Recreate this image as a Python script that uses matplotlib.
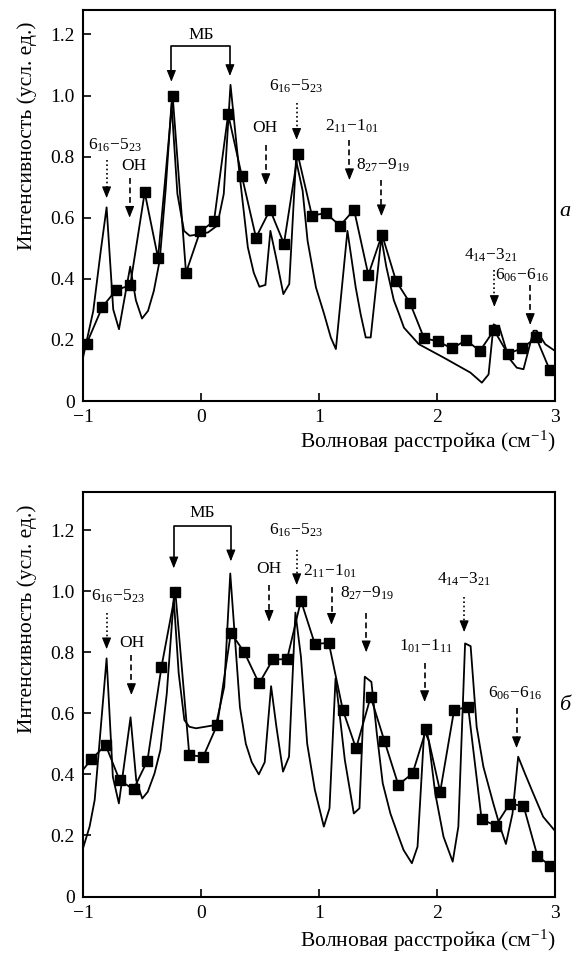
import matplotlib
matplotlib.use("Agg")
import matplotlib.pyplot as plt

plt.rcParams['font.family'] = ['Liberation Serif', 'DejaVu Serif']
plt.rcParams['mathtext.fontset'] = 'custom'
plt.rcParams['mathtext.rm'] = 'Liberation Serif'
plt.rcParams['mathtext.it'] = 'Liberation Serif:italic'
plt.rcParams['mathtext.bf'] = 'Liberation Serif:bold'

# ---------------- data: panel a ----------------
a_exp_x = [-0.97, -0.836, -0.72, -0.60, -0.477, -0.364, -0.24, -0.127, -0.008, 0.11,
           0.23, 0.347, 0.466, 0.585, 0.703, 0.82, 0.94, 1.057, 1.178, 1.297,
           1.418, 1.534, 1.653, 1.771, 1.89, 2.008, 2.127, 2.246, 2.364, 2.483,
           2.60, 2.72, 2.84, 2.957]
a_exp_y = [0.187, 0.308, 0.363, 0.379, 0.683, 0.468, 0.998, 0.42, 0.555, 0.588,
           0.939, 0.735, 0.535, 0.626, 0.515, 0.807, 0.607, 0.615, 0.574, 0.626,
           0.413, 0.545, 0.393, 0.321, 0.206, 0.195, 0.172, 0.199, 0.164, 0.232,
           0.155, 0.172, 0.208, 0.10]

a_th_x = [-1.0, -0.913, -0.85, -0.80, -0.744, -0.695, -0.60, -0.552, -0.50, -0.449,
          -0.40, -0.35, -0.30, -0.25, -0.20, -0.144, -0.096, -0.012, 0.06, 0.137,
          0.193, 0.25, 0.326, 0.397, 0.447, 0.495, 0.546, 0.588, 0.636, 0.698,
          0.748, 0.805, 0.861, 0.903, 0.974, 1.044, 1.10, 1.143, 1.241, 1.311,
          1.353, 1.396, 1.438, 1.528, 1.57, 1.634, 1.678, 1.72, 1.846, 2.057,
          2.283, 2.38, 2.437, 2.48, 2.53, 2.607, 2.676, 2.733, 2.818, 2.845,
          2.917, 3.0]
a_th_y = [0.142, 0.295, 0.49, 0.634, 0.30, 0.235, 0.44, 0.33, 0.27, 0.295,
          0.36, 0.46, 0.69, 0.975, 0.678, 0.557, 0.541, 0.546, 0.552, 0.574,
          0.678, 1.035, 0.744, 0.503, 0.42, 0.374, 0.38, 0.557, 0.47, 0.35,
          0.383, 0.789, 0.689, 0.525, 0.372, 0.284, 0.208, 0.17, 0.557, 0.372,
          0.284, 0.208, 0.208, 0.535, 0.44, 0.33, 0.285, 0.24, 0.186, 0.142,
          0.093, 0.06, 0.087, 0.251, 0.24, 0.142, 0.109, 0.104, 0.23, 0.23,
          0.186, 0.164]

# ---------------- data: panel b ----------------
b_exp_x = [-1.0, -0.93, -0.808, -0.69, -0.572, -0.454, -0.335, -0.217, -0.099, 0.019,
           0.138, 0.253, 0.367, 0.492, 0.61, 0.729, 0.847, 0.965, 1.083, 1.202,
           1.314, 1.438, 1.554, 1.672, 1.793, 1.909, 2.027, 2.145, 2.264, 2.378,
           2.497, 2.615, 2.733, 2.851, 2.961]
b_exp_y = [0.415, 0.449, 0.496, 0.381, 0.351, 0.445, 0.752, 0.996, 0.463, 0.458,
           0.563, 0.864, 0.80, 0.698, 0.777, 0.777, 0.969, 0.827, 0.831, 0.611,
           0.485, 0.654, 0.51, 0.366, 0.403, 0.548, 0.343, 0.611, 0.621, 0.253,
           0.232, 0.303, 0.297, 0.133, 0.10]

b_th_x = [-1.0, -0.944, -0.901, -0.80, -0.747, -0.696, -0.597, -0.549, -0.498, -0.451,
          -0.394, -0.344, -0.29, -0.231, -0.189, -0.141, -0.099, -0.042, 0.127, 0.197,
          0.248, 0.30, 0.33, 0.38, 0.43, 0.49, 0.54, 0.594, 0.639, 0.695,
          0.746, 0.80, 0.847, 0.90, 0.965, 1.041, 1.089, 1.14, 1.219, 1.295,
          1.343, 1.388, 1.444, 1.49, 1.54, 1.605, 1.675, 1.717, 1.787, 1.835,
          1.892, 1.93, 1.985, 2.055, 2.133, 2.181, 2.238, 2.285, 2.336, 2.393,
          2.477, 2.534, 2.584, 2.64, 2.688, 2.745, 2.815, 2.90, 2.993]
b_th_y = [0.158, 0.229, 0.316, 0.78, 0.392, 0.305, 0.587, 0.381, 0.321, 0.343,
          0.403, 0.48, 0.665, 0.976, 0.731, 0.578, 0.556, 0.551, 0.562, 0.687,
          1.058, 0.78, 0.62, 0.50, 0.44, 0.40, 0.44, 0.689, 0.556, 0.409,
          0.458, 0.93, 0.785, 0.50, 0.349, 0.229, 0.289, 0.714, 0.447, 0.272,
          0.289, 0.72, 0.703, 0.534, 0.371, 0.272, 0.196, 0.152, 0.109, 0.163,
          0.545, 0.51, 0.338, 0.196, 0.114, 0.229, 0.829, 0.82, 0.556, 0.425,
          0.305, 0.229, 0.172, 0.272, 0.458, 0.403, 0.338, 0.261, 0.218]

x_ticks = [-1, 0, 1, 2, 3]
y_ticks = [0, 0.2, 0.4, 0.6, 0.8, 1.0, 1.2]
y_label = "Интенсивность (усл. ед.)"
x_label = "Волновая расстройка (см$^{-1}$)"

# annotations: (text, text_x, text_y, arrow_x, arrow_top, arrow_tip, style)
L1 = "6$_{16}$−5$_{23}$"
L2 = "2$_{11}$−1$_{01}$"
L3 = "8$_{27}$−9$_{19}$"
L4 = "4$_{14}$−3$_{21}$"
L5 = "6$_{06}$−6$_{16}$"
L6 = "1$_{01}$−1$_{11}$"
a_notes = [
    (L1, -0.73, 0.838, -0.80, 0.789, 0.664, 'dot'),
    ("OH", -0.572, 0.77, -0.605, 0.73, 0.60, 'dash'),
    ("OH", 0.543, 0.893, 0.549, 0.838, 0.707, 'dash'),
    (L1, 0.805, 1.03, 0.81, 0.975, 0.855, 'dot'),
    (L2, 1.274, 0.898, 1.258, 0.855, 0.723, 'dash'),
    (L3, 1.537, 0.772, 1.529, 0.723, 0.605, 'dash'),
    (L4, 2.456, 0.478, 2.486, 0.429, 0.308, 'dot'),
    (L5, 2.72, 0.412, 2.79, 0.38, 0.249, 'dash'),
]
b_notes = [
    (L1, -0.704, 0.982, -0.80, 0.93, 0.81, 'dot'),
    ("OH", -0.583, 0.831, -0.59, 0.79, 0.66, 'dash'),
    ("OH", 0.571, 1.072, 0.577, 1.02, 0.90, 'dash'),
    (L1, 0.805, 1.20, 0.811, 1.135, 1.02, 'dot'),
    (L2, 1.092, 1.064, 1.106, 1.013, 0.89, 'dash'),
    (L3, 1.407, 0.993, 1.40, 0.93, 0.80, 'dash'),
    (L6, 1.907, 0.818, 1.895, 0.765, 0.637, 'dash'),
    (L4, 2.224, 1.039, 2.23, 0.98, 0.866, 'dot'),
    (L5, 2.657, 0.665, 2.674, 0.617, 0.486, 'dash'),
]
# MB bracket: (text_x, text_y, left_x, left_tip, right_x, right_tip, bar_y)
a_mb = (0.0, 1.198, -0.251, 1.045, 0.245, 1.064, 1.163)
b_mb = (0.011, 1.256, -0.231, 1.075, 0.253, 1.098, 1.214)

W, H = 580, 961
fig = plt.figure(figsize=(W / 100, H / 100), dpi=100)

def px_axes(l, r, t, b):
    return fig.add_axes([l / W, 1 - b / H, (r - l) / W, (b - t) / H])

ax1 = px_axes(83, 555, 10, 401)
ax2 = px_axes(83, 555, 492, 896.5)

def fmt_y(v, pos):
    return '0' if abs(v) < 1e-9 else f'{v:.1f}'

def arrow(ax, x, ytop, ytip, style):
    ls = (0, (1, 1.6)) if style == 'dot' else (0, (3.5, 2.2))
    hl = 0.028
    ax.plot([x, x], [ytop, ytip + hl], color='k', lw=1.2, ls=ls,
            solid_capstyle='butt', dash_capstyle='butt')
    ax.annotate('', xy=(x, ytip), xytext=(x, ytip + hl),
                arrowprops=dict(arrowstyle='-|>,head_length=0.7,head_width=0.28',
                                mutation_scale=10, color='k', lw=0.8,
                                shrinkA=0, shrinkB=0))

def mb(ax, spec):
    tx, ty, lx, ltip, rx, rtip, by = spec
    ax.text(tx, ty, "МБ", ha='center', va='center', fontsize=12.5)
    ax.plot([lx, lx, rx, rx], [ltip + 0.03, by, by, rtip + 0.03], color='k', lw=1.2)
    for xx, tip in ((lx, ltip), (rx, rtip)):
        ax.annotate('', xy=(xx, tip), xytext=(xx, tip + 0.035),
                    arrowprops=dict(arrowstyle='-|>,head_length=0.7,head_width=0.28',
                                    mutation_scale=10, color='k', lw=0.8,
                                    shrinkA=0, shrinkB=0))

def setup(ax, ytop, notes, mbspec, exp_x, exp_y, th_x, th_y, markevery):
    ax.plot(th_x, th_y, color='k', lw=1.3)
    ax.plot(exp_x, exp_y, color='k', lw=1.3, marker='s', ms=7.2,
            markevery=markevery, markerfacecolor='k', markeredgecolor='k')
    ax.set_xlim(-1, 3)
    ax.set_ylim(0, ytop)
    ax.set_xticks(x_ticks)
    ax.set_yticks(y_ticks)
    ax.yaxis.set_major_formatter(plt.FuncFormatter(fmt_y))
    ax.tick_params(direction='in', length=6, width=1.2, labelsize=14, pad=6,
                   top=False, right=False)
    for s in ax.spines.values():
        s.set_linewidth(1.5)
    ax.set_ylabel(y_label, fontsize=15.5, loc='top')
    ax.yaxis.set_label_coords(-0.098, 0.97)
    ax.set_xlabel(x_label, fontsize=15.5, loc='right')
    for (t, tx, ty, axx, at, atip, st) in notes:
        ax.text(tx, ty, t, ha='center', va='center', fontsize=12.5)
        arrow(ax, axx, at, atip, st)
    mb(ax, mbspec)

setup(ax1, 1.28, a_notes, a_mb, a_exp_x, a_exp_y, a_th_x, a_th_y, None)
ax1.xaxis.set_label_coords(1.0, -0.07)
setup(ax2, 1.325, b_notes, b_mb, b_exp_x, b_exp_y, b_th_x, b_th_y,
      list(range(1, len(b_exp_x))))
ax2.xaxis.set_label_coords(1.0, -0.078)

fig.text(565 / W, 1 - 212 / H, "а", fontsize=16, style='italic', ha='center', va='center')
fig.text(565 / W, 1 - 705 / H, "б", fontsize=16, style='italic', ha='center', va='center')

fig.savefig("out.png", dpi=100)
